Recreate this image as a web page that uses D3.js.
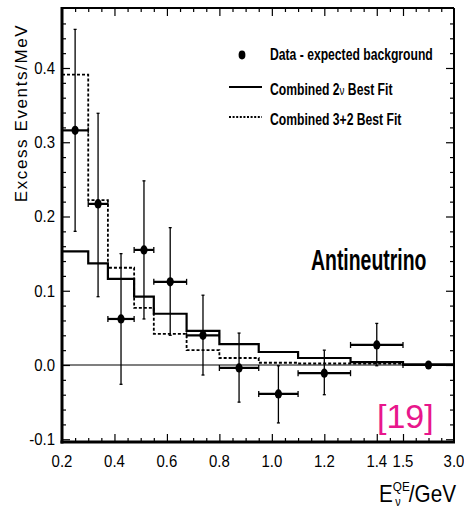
<!DOCTYPE html>
<html>
<head>
<meta charset="utf-8">
<script src="https://cdn.jsdelivr.net/npm/d3@7"></script>
<style>
  html, body { margin: 0; padding: 0; background: #fff; }
  svg { display: block; }
  .narrow { font-family: "Liberation Sans Narrow", "Liberation Sans", Arial, sans-serif; }
</style>
</head>
<body>
<svg id="chart" width="464" height="512"></svg>
<script>
// Energy bin edges (GeV) of the antineutrino excess histogram
const binEdges = [0.2, 0.3, 0.375, 0.475, 0.55, 0.675, 0.8, 0.95, 1.1, 1.3, 1.5, 3.0];
// Data minus expected background (events/MeV) and error bar limits
const dataValues = [0.316, 0.217, 0.062, 0.155, 0.112, 0.040, -0.004, -0.039, -0.011, 0.027, 0.000];
const errLow     = [0.180, 0.092, -0.026, 0.062, 0.040, -0.0135, -0.050, -0.078, -0.040, -0.001, -0.003];
const errHigh    = [0.452, 0.339, 0.150, 0.248, 0.185, 0.094, 0.043, -0.001, 0.020, 0.056, 0.003];
// Best-fit predictions per bin
const fit2nu = [0.153, 0.137, 0.116, 0.092, 0.069, 0.046, 0.028, 0.0175, 0.0094, 0.004, 0.001];
const fit32  = [0.391, 0.222, 0.131, 0.077, 0.042, 0.020, 0.0094, 0.003, 0.002, 0.002, 0.000];
// Axis ticks
const xMajorTicks = [0.2, 0.4, 0.6, 0.8, 1.0, 1.2, 1.4, 1.5, 3.0];
const xTickLabels = ["0.2", "0.4", "0.6", "0.8", "1.0", "1.2", "1.4", "1.5", "3.0"];
const xMinorTicks = [0.25, 0.3, 0.35, 0.45, 0.5, 0.55, 0.65, 0.7, 0.75, 0.85, 0.9, 0.95,
                     1.05, 1.1, 1.15, 1.25, 1.3, 1.35, 1.45, 1.875, 2.25, 2.625];
const yMajorTicks = [-0.1, 0.0, 0.1, 0.2, 0.3, 0.4];
const yTickLabels = ["-0.1", "0.0", "0.1", "0.2", "0.3", "0.4"];
const yMinorTicks = [-0.08, -0.06, -0.04, -0.02, 0.02, 0.04, 0.06, 0.08, 0.12, 0.14, 0.16, 0.18,
                     0.22, 0.24, 0.26, 0.28, 0.32, 0.34, 0.36, 0.38, 0.42, 0.44, 0.46];

const svg = d3.select("#chart");
const L = 62, R = 454, T = 8, B = 442;

// Piecewise x scale: linear up to 1.5 GeV, last wide bin compressed
const x = d3.scaleLinear().domain([0.2, 1.5, 3.0]).range([L, 403, R]);
const y = d3.scaleLinear().domain([-0.1037, 0.4808]).range([B, T]);

const nb = dataValues.length;
const bins = d3.range(nb).map(i => ({
  lo: binEdges[i], hi: binEdges[i + 1],
  mid: x.invert((x(binEdges[i]) + x(binEdges[i + 1])) / 2),
  v: dataValues[i], el: errLow[i], eh: errHigh[i]
}));

// Ticks on all four sides, pointing inward
function tickAxis(axisFn, scale, values, size, transform) {
  const g = svg.append("g").attr("transform", transform)
    .call(axisFn(scale).tickValues(values).tickSize(-size).tickSizeOuter(0).tickFormat(""));
  g.select(".domain").remove();
  g.selectAll(".tick line").attr("stroke", "#000").attr("stroke-width", 1.2);
  return g;
}
tickAxis(d3.axisBottom, x, xMajorTicks.slice(1, -1), 8, `translate(0,${B})`);
tickAxis(d3.axisBottom, x, xMinorTicks, 4, `translate(0,${B})`);
tickAxis(d3.axisTop, x, xMajorTicks.slice(1, -1), 8, `translate(0,${T})`);
tickAxis(d3.axisTop, x, xMinorTicks, 4, `translate(0,${T})`);
tickAxis(d3.axisLeft, y, yMajorTicks, 8, `translate(${L},0)`);
tickAxis(d3.axisLeft, y, yMinorTicks, 4, `translate(${L},0)`);
tickAxis(d3.axisRight, y, yMajorTicks, 8, `translate(${R},0)`);
tickAxis(d3.axisRight, y, yMinorTicks, 4, `translate(${R},0)`);

// Tick labels
svg.append("g").selectAll("text").data(xMajorTicks).join("text")
  .attr("class", "narrow")
  .attr("transform", d => `translate(${x(d)},467) scale(0.88,1)`)
  .attr("text-anchor", "middle").attr("font-size", 17).attr("fill", "#000")
  .text((d, i) => xTickLabels[i]);
svg.append("g").selectAll("text").data(yMajorTicks).join("text")
  .attr("class", "narrow")
  .attr("transform", d => `translate(55,${y(d) + 6}) scale(0.88,1)`)
  .attr("text-anchor", "end").attr("font-size", 17).attr("fill", "#000")
  .text((d, i) => yTickLabels[i]);

// Zero line
svg.append("line").attr("x1", L).attr("x2", R).attr("y1", y(0)).attr("y2", y(0))
  .attr("stroke", "#000").attr("stroke-width", 1.2);

// Step histograms for the two fits
function stepPath(vals) {
  const p = d3.path();
  vals.forEach((v, i) => {
    const x0 = x(binEdges[i]), x1 = x(binEdges[i + 1]);
    if (i === 0) p.moveTo(x0, y(v)); else p.lineTo(x0, y(v));
    p.lineTo(x1, y(v));
  });
  return p.toString();
}
svg.append("path").attr("d", stepPath(fit32)).attr("fill", "none")
  .attr("stroke", "#000").attr("stroke-width", 1.8).attr("stroke-dasharray", "3,2");
svg.append("path").attr("d", stepPath(fit2nu)).attr("fill", "none")
  .attr("stroke", "#000").attr("stroke-width", 2.2);

// Data points with error bars
const pts = svg.append("g").attr("stroke", "#000");
bins.forEach(b => {
  const cx = x(b.mid), cy = y(b.v);
  pts.append("line").attr("x1", cx).attr("x2", cx).attr("y1", y(b.eh)).attr("y2", y(b.el)).attr("stroke-width", 1.3);
  pts.append("line").attr("x1", cx - 1.5).attr("x2", cx + 1.5).attr("y1", y(b.eh)).attr("y2", y(b.eh)).attr("stroke-width", 1.3);
  pts.append("line").attr("x1", cx - 1.5).attr("x2", cx + 1.5).attr("y1", y(b.el)).attr("y2", y(b.el)).attr("stroke-width", 1.3);
  const xa = x(b.lo), xb = x(b.hi);
  pts.append("line").attr("x1", xa).attr("x2", xb).attr("y1", cy).attr("y2", cy).attr("stroke-width", 2.2);
  pts.append("line").attr("x1", xa).attr("x2", xa).attr("y1", cy - 3).attr("y2", cy + 3).attr("stroke-width", 1.3);
  pts.append("line").attr("x1", xb).attr("x2", xb).attr("y1", cy - 3).attr("y2", cy + 3).attr("stroke-width", 1.3);
  pts.append("ellipse").attr("cx", cx).attr("cy", cy).attr("rx", 3.6).attr("ry", 4.6).attr("fill", "#000").attr("stroke", "none");
});

// Frame: heavier left and bottom edges
svg.append("line").attr("x1", L).attr("x2", R).attr("y1", T).attr("y2", T).attr("stroke", "#000").attr("stroke-width", 2);
svg.append("line").attr("x1", R).attr("x2", R).attr("y1", T).attr("y2", B).attr("stroke", "#000").attr("stroke-width", 2);
svg.append("line").attr("x1", L).attr("x2", L).attr("y1", T - 1).attr("y2", B + 1.5).attr("stroke", "#000").attr("stroke-width", 3);
svg.append("line").attr("x1", L - 1.5).attr("x2", R + 1).attr("y1", B).attr("y2", B).attr("stroke", "#000").attr("stroke-width", 3);

// Legend
const lg = svg.append("g");
lg.append("ellipse").attr("cx", 242).attr("cy", 55).attr("rx", 3.4).attr("ry", 4.4).attr("fill", "#000");
lg.append("line").attr("x1", 229).attr("x2", 262).attr("y1", 87).attr("y2", 87).attr("stroke", "#000").attr("stroke-width", 2);
lg.append("line").attr("x1", 229).attr("x2", 262).attr("y1", 117).attr("y2", 117).attr("stroke", "#000").attr("stroke-width", 1.8).attr("stroke-dasharray", "2,1.6");
function legendText(yy, parts) {
  const t = lg.append("text").attr("class", "narrow").attr("transform", `translate(270,${yy}) scale(0.76,1)`)
    .attr("font-size", 16).attr("font-weight", "bold").attr("fill", "#000");
  parts.forEach(p => {
    const s = t.append("tspan").text(p.t);
    if (p.nu) s.attr("font-weight", "normal").attr("font-size", 13).attr("font-family", "Liberation Sans, Arial, sans-serif");
  });
}
legendText(60, [{ t: "Data - expected background" }]);
legendText(95, [{ t: "Combined 2" }, { t: "ν", nu: true }, { t: " Best Fit" }]);
legendText(125, [{ t: "Combined 3+2 Best Fit" }]);

// Panel label
svg.append("text").attr("class", "narrow")
  .attr("transform", "translate(311,270) scale(0.67,1)")
  .attr("font-size", 29).attr("font-weight", "bold").attr("fill", "#000")
  .text("Antineutrino");

// Reference tag
svg.append("text").attr("x", 377).attr("y", 428)
  .attr("font-family", "Liberation Sans, Arial, sans-serif").attr("font-size", 34)
  .attr("fill", "#e8178c").text("[19]");

// Axis titles
svg.append("text")
  .attr("transform", "translate(27,113) rotate(-90)")
  .attr("text-anchor", "middle")
  .attr("font-family", "Liberation Sans, Arial, sans-serif").attr("font-size", 17)
  .attr("letter-spacing", 1.6).attr("fill", "#000")
  .text("Excess Events/MeV");

const xt = svg.append("text").attr("class", "narrow")
  .attr("transform", "translate(456,502) scale(0.9,1)")
  .attr("text-anchor", "end").attr("font-size", 23).attr("fill", "#000");
xt.append("tspan").text("E");
xt.append("tspan").attr("font-size", 13).attr("dy", -11).text("QE");
xt.append("tspan").attr("font-size", 12).attr("dx", -16).attr("dy", 15).text("ν");
xt.append("tspan").attr("dx", 9).attr("dy", -4).text("/GeV");
</script>
</body>
</html>
